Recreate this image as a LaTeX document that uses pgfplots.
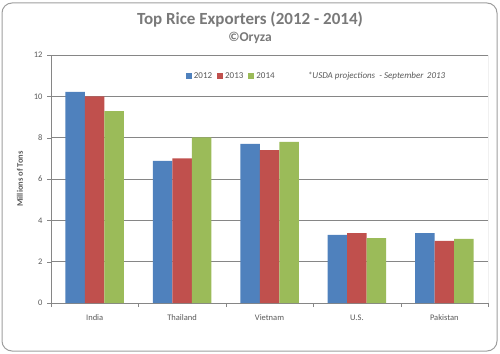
\documentclass[border=0pt]{standalone}
\usepackage{pgfplots}
\pgfplotsset{compat=1.18}
\usepackage{fontspec}
\setmainfont{Carlito}
\definecolor{cb}{HTML}{4F81BD}
\definecolor{cr}{HTML}{C0504D}
\definecolor{cg}{HTML}{9BBB59}
\definecolor{ax}{HTML}{868686}
\definecolor{tx}{HTML}{595959}
\begin{document}
\begin{tikzpicture}[x=1pt,y=1pt]
\path (0,0) rectangle (500,353);
\draw[ax!80, line width=1pt, rounded corners=10pt] (2,2) rectangle (497,350);
\node[text=gray!95!black, font=\bfseries\fontsize{17}{19}\selectfont] at (250,333) {Top Rice Exporters (2012 - 2014)};
\node[text=gray!95!black, font=\bfseries\fontsize{13.5}{15}\selectfont] at (250,315) {©Oryza};
\begin{axis}[
  at={(51pt,50pt)}, anchor=south west,
  scale only axis, width=437pt, height=248pt,
  ybar=0pt, bar width=19.5pt,
  xmin=-0.5, xmax=4.5, ymin=0, ymax=12,
  ytick={0,2,...,12},
  xtick={0,...,4},
  xticklabels={India,Thailand,Vietnam,U.S.,Pakistan},
  minor xtick={-0.5,0.5,...,4.5},
  tick align=outside,
  major tick length=4pt, minor tick length=4pt,
  x tick style={draw=none},
  minor x tick style={draw=ax},
  y tick style={draw=ax},
  ymajorgrids, grid style={ax, line width=0.6pt},
  axis line style={ax, line width=0.7pt},
  axis x line*=bottom, axis y line*=left,
  ticklabel style={text=tx, font=\fontsize{8.5}{10}\selectfont},
  /pgf/number format/assume math mode=true,
  xticklabel style={yshift=-4pt},
  yticklabel style={xshift=-1pt},
  ylabel={\bfseries Millions of Tons},
  ylabel style={text=tx, font=\fontsize{8.5}{10}\selectfont, at={(axis description cs:-0.071,0.5)}, anchor=center},
  legend style={at={(axis cs:1.03,10.97)}, anchor=west, draw=none, fill=white, legend columns=-1,
    font=\fontsize{9}{10}\selectfont, text=tx, /tikz/every even column/.append style={column sep=3pt}, inner sep=1pt},
  legend image code/.code={\fill[#1] (0pt,-3pt) rectangle (6pt,3pt);},
]
\addplot[fill=cb, draw=none] coordinates {(0,10.22) (1,6.88) (2,7.7) (3,3.3) (4,3.38)};
\addplot[fill=cr, draw=none] coordinates {(0,10.0) (1,7.0) (2,7.4) (3,3.38) (4,3.0)};
\addplot[fill=cg, draw=none] coordinates {(0,9.29) (1,8.02) (2,7.8) (3,3.14) (4,3.1)};
\legend{2012,2013,2014}
\draw[ax, line width=0.6pt] (rel axis cs:1,0) -- (rel axis cs:1,1);
\node[anchor=west, text=tx, font=\itshape\fontsize{9}{10}\selectfont] at (axis cs:2.4,10.97) {*USDA projections \ - September \,2013};
\end{axis}
\end{tikzpicture}
\end{document}
